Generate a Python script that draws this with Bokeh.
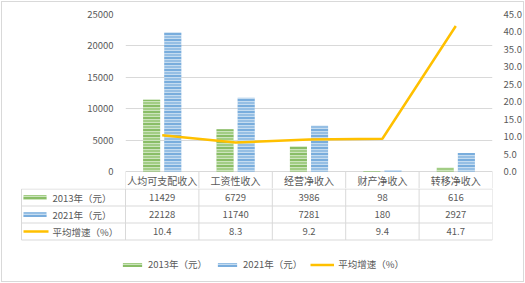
from bokeh.plotting import figure
from bokeh.models import (Range1d, LinearAxis, FixedTicker, NumeralTickFormatter,
                          ColumnDataSource, Legend, LegendItem)
from bokeh.layouts import column
from bokeh.core.properties import value
from bokeh.embed import file_html
from bokeh.resources import INLINE

# ---------------- data ----------------
categories = ["人均可支配收入", "工资性收入", "经营净收入", "财产净收入", "转移净收入"]
income_2013 = [11429, 6729, 3986, 98, 616]
income_2021 = [22128, 11740, 7281, 180, 2927]
growth = [10.4, 8.3, 9.2, 9.4, 41.7]
series_names = ["2013年（元）", "2021年（元）", "平均增速（%）"]
left_ticks = [0, 5000, 10000, 15000, 20000, 25000]
right_ticks = [0, 5, 10, 15, 20, 25, 30, 35, 40, 45]

# ---------------- styles ----------------
FONT = "Noto Sans CJK SC"
TXT = "#595959"
GRID = "#D9D9D9"
G_BASE, G_DARK = "#A2CD85", "#70AD47"
B_BASE, B_DARK = "#96BFE4", "#5B9BD5"
ORANGE = "#FFC000"
WHITE_HATCH = dict(hatch_pattern="horizontal_line", hatch_color="white",
                   hatch_scale=3, hatch_weight=1, hatch_alpha=0.45)

n = len(categories)
centers = [i + 0.5 for i in range(n)]
off, bw = 0.144, 0.232

# ---------------- top figure (chart + header row) ----------------
W = 525
TOP_H = 188
px_left = 25000 / 157.0          # data units per pixel, left axis
px_right = 45 / 157.0            # right axis
below_zero = 17                  # pixels of header row below the zero line

p = figure(width=W, height=TOP_H, output_backend="svg", toolbar_location=None,
           x_range=Range1d(0, n), y_range=Range1d(-below_zero * px_left, 25000),
           x_axis_location=None, min_border_left=125, min_border_right=33,
           min_border_top=14, min_border_bottom=0)
p.frame_align = False
p.outline_line_color = None
p.background_fill_alpha = 0
p.border_fill_alpha = 0
p.xgrid.visible = False
p.ygrid.ticker = FixedTicker(ticks=left_ticks)
p.ygrid.grid_line_color = GRID
p.ygrid.grid_line_width = 1

ya = p.yaxis[0]
ya.ticker = FixedTicker(ticks=left_ticks)
ya.axis_line_color = None
ya.major_tick_line_color = None
ya.minor_tick_line_color = None
ya.major_label_standoff = 6
ya.major_label_text_font = FONT
ya.major_label_text_font_size = "9.5px"
ya.major_label_text_color = TXT

p.extra_y_ranges = {"pct": Range1d(-below_zero * px_right, 45)}
ra = LinearAxis(y_range_name="pct", ticker=FixedTicker(ticks=right_ticks),
                formatter=NumeralTickFormatter(format="0.0"))
ra.axis_line_color = None
ra.major_tick_line_color = None
ra.minor_tick_line_color = None
ra.major_label_standoff = 5
ra.major_label_text_font = FONT
ra.major_label_text_font_size = "9.5px"
ra.major_label_text_color = TXT
p.add_layout(ra, "right")

src = ColumnDataSource(dict(
    xg=[c - off for c in centers], xb=[c + off for c in centers],
    y13=income_2013, y21=income_2021, x=centers, g=growth))

# bars: base fill + light stripes, then darker stripes on top
p.vbar(x="xg", top="y13", width=bw, source=src, fill_color=G_BASE, line_color=None,
       **WHITE_HATCH)
p.vbar(x="xg", top="y13", width=bw, source=src, fill_alpha=0, line_color=None,
       hatch_pattern="horizontal_line", hatch_color=G_DARK, hatch_scale=6, hatch_weight=1)
p.vbar(x="xb", top="y21", width=bw, source=src, fill_color=B_BASE, line_color=None,
       **WHITE_HATCH)
p.vbar(x="xb", top="y21", width=bw, source=src, fill_alpha=0, line_color=None,
       hatch_pattern="horizontal_line", hatch_color=B_DARK, hatch_scale=6, hatch_weight=1)

p.line(x="x", y="g", source=src, y_range_name="pct", line_color=ORANGE, line_width=2.5)

# header row of the data table
bounds = list(range(n + 1))
p.segment(x0=bounds, y0=[0] * len(bounds), x1=bounds,
          y1=[-below_zero * px_left] * len(bounds), line_color=GRID, line_width=1)
p.text(x=centers, y=[-8.5 * px_left] * n, text=categories, text_font=value(FONT),
       text_font_size=value("10px"), text_color=TXT, text_align="center",
       text_baseline="middle")

# ---------------- bottom figure (table rows + legend) ----------------
BOT_H = 283 - TOP_H
unit = (492 - 125) / n
x_start = -(125 - 20) / unit
key_left = -(125 - 21) / unit

q = figure(width=W, height=BOT_H, output_backend="svg", toolbar_location=None,
           x_range=Range1d(x_start, n), y_range=Range1d(BOT_H, 0),
           x_axis_location=None, y_axis_location=None,
           min_border_left=20, min_border_right=33, min_border_top=0, min_border_bottom=0)
q.frame_align = False
q.outline_line_color = None
q.xgrid.visible = False
q.ygrid.visible = False
q.background_fill_alpha = 0
q.border_fill_alpha = 0

row_lines = [0.5, 17.5, 34.5, 51.5]
q.segment(x0=[key_left] * 4, y0=row_lines, x1=[n] * 4, y1=row_lines,
          line_color=GRID, line_width=1)
vx = [key_left] + bounds
vy0 = [0.5] + [0] * len(bounds)
q.segment(x0=vx, y0=vy0, x1=vx, y1=[51.5] * len(vx), line_color=GRID, line_width=1)

row_y = [9, 26, 43]
rows = [[str(v) for v in income_2013], [str(v) for v in income_2021],
        [f"{v:.1f}" for v in growth]]
for ry, vals in zip(row_y, rows):
    q.text(x=centers, y=[ry] * n, text=vals, text_font=value(FONT),
           text_font_size=value("9.5px"), text_color=TXT, text_align="center",
           text_baseline="middle")

key_cx = key_left + 13.5 / unit
q.text(x=[key_left + 31 / unit] * 3, y=row_y, text=series_names, text_font=value(FONT),
       text_font_size=value("9.5px"), text_color=TXT, text_align="left",
       text_baseline="middle")

kg1 = q.rect(x=[key_cx], y=[row_y[0]], width=23, height=5, width_units="screen",
             height_units="screen", fill_color=G_BASE, line_color=None, **WHITE_HATCH)
kg2 = q.rect(x=[key_cx], y=[row_y[0]], width=23, height=5, width_units="screen",
             height_units="screen", fill_alpha=0, line_color=None,
             hatch_pattern="horizontal_line", hatch_color=G_DARK, hatch_scale=6, hatch_weight=1)
kb1 = q.rect(x=[key_cx], y=[row_y[1]], width=23, height=5, width_units="screen",
             height_units="screen", fill_color=B_BASE, line_color=None, **WHITE_HATCH)
kb2 = q.rect(x=[key_cx], y=[row_y[1]], width=23, height=5, width_units="screen",
             height_units="screen", fill_alpha=0, line_color=None,
             hatch_pattern="horizontal_line", hatch_color=B_DARK, hatch_scale=6, hatch_weight=1)
ko = q.line(x=[key_left + 2 / unit, key_left + 27 / unit], y=[row_y[2], row_y[2]],
            line_color=ORANGE, line_width=2.5)

legend = Legend(items=[LegendItem(label=series_names[0], renderers=[kg1, kg2]),
                       LegendItem(label=series_names[1], renderers=[kb1, kb2]),
                       LegendItem(label=series_names[2], renderers=[ko])],
                orientation="horizontal", location=(100, 12), padding=0, margin=0,
                spacing=8, label_standoff=4, glyph_width=24, glyph_height=5,
                label_height=12, label_text_font=FONT,
                label_text_font_size="9.5px", label_text_color=TXT,
                border_line_color=None, background_fill_alpha=0)
q.add_layout(legend)

layout = column(p, q, spacing=0)
layout.styles = {"outline": "1px solid #D9D9D9", "outline-offset": "-2px",
                 "background-color": "white"}
open("out.html", "w").write(file_html(layout, INLINE))
